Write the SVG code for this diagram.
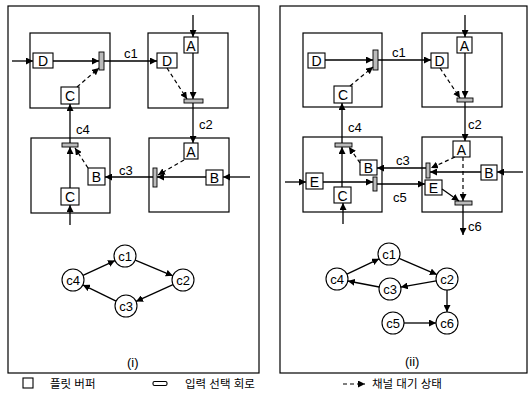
<svg xmlns="http://www.w3.org/2000/svg" width="529" height="397" viewBox="0 0 529 397">
<defs>
<marker id="ah" viewBox="0 0 10 10" refX="10" refY="5" markerWidth="7" markerHeight="7" markerUnits="userSpaceOnUse" orient="auto">
<path d="M0,0 L10,5 L0,10 z" fill="#000"/>
</marker>
</defs>
<style>
.frame{fill:none;stroke:#000;stroke-width:1.2}
.node{fill:#fff;stroke:#000;stroke-width:1.2}
.buf{fill:#fff;stroke:#000;stroke-width:1.1}
.sel{fill:#bbb;stroke:#000;stroke-width:0.9}
.ln{fill:none;stroke:#000;stroke-width:1.3;marker-end:url(#ah)}
.dl{fill:none;stroke:#000;stroke-width:1.2;stroke-dasharray:4,3;marker-end:url(#ah)}
.circ{fill:#fff;stroke:#000;stroke-width:1.1}
text{font-family:"Liberation Sans","Noto Sans CJK KR",sans-serif;fill:#000}
.bt{font-size:14px;text-anchor:middle}
.lb{font-size:13px}
.ct{font-size:13px;text-anchor:middle}
.kt{font-size:11.5px}
</style>
<rect class="frame" x="8" y="6" width="251" height="367"/>
<rect class="frame" x="280" y="6" width="247" height="367"/>

<!-- Panel i nodes -->
<g id="i-tl"><rect class="node" x="30" y="33" width="80" height="75"/>
<rect class="buf" x="33" y="53" width="20" height="15"/><text class="bt" x="43" y="66">D</text>
<rect class="buf" x="61" y="87" width="18" height="17"/><text class="bt" x="70" y="100.5">C</text>
<rect class="sel" x="99" y="52" width="5" height="18"/></g>
<g id="i-tr"><rect class="node" x="148" y="33" width="80" height="75"/>
<rect class="buf" x="157" y="53" width="20" height="15"/><text class="bt" x="167" y="66">D</text>
<rect class="buf" x="184" y="37" width="14" height="16"/><text class="bt" x="191" y="50.5">A</text>
<rect class="sel" x="184" y="99" width="19" height="4"/></g>
<g id="i-bl"><rect class="node" x="31" y="138" width="79" height="75"/>
<rect class="buf" x="88" y="168" width="17" height="17"/><text class="bt" x="96.5" y="181.5">B</text>
<rect class="buf" x="61" y="188" width="18" height="17"/><text class="bt" x="70" y="201.5">C</text>
<rect class="sel" x="62" y="143" width="16" height="4"/></g>
<g id="i-br"><rect class="node" x="149" y="138" width="80" height="74"/>
<rect class="buf" x="184" y="143" width="14" height="16"/><text class="bt" x="191" y="156.5">A</text>
<rect class="buf" x="206" y="170" width="17" height="15"/><text class="bt" x="214.5" y="182.5">B</text>
<rect class="sel" x="153" y="168" width="4" height="19"/></g>

<!-- Panel ii nodes -->
<g id="ii-tl"><rect class="node" x="303" y="33" width="79" height="74"/>
<rect class="buf" x="308" y="53" width="17" height="15"/><text class="bt" x="316.5" y="66">D</text>
<rect class="buf" x="334" y="86" width="18" height="17"/><text class="bt" x="343" y="99.5">C</text>
<rect class="sel" x="373" y="50" width="5" height="20"/></g>
<g id="ii-tr"><rect class="node" x="422" y="33" width="80" height="74"/>
<rect class="buf" x="431" y="53" width="17" height="15"/><text class="bt" x="439.5" y="66">D</text>
<rect class="buf" x="457" y="37" width="15" height="16"/><text class="bt" x="464.5" y="50.5">A</text>
<rect class="sel" x="457" y="98" width="16" height="4"/></g>
<g id="ii-bl"><rect class="node" x="303" y="137" width="79" height="75"/>
<rect class="buf" x="360" y="160" width="17" height="15"/><text class="bt" x="368.5" y="173">B</text>
<rect class="buf" x="306" y="173" width="17" height="16"/><text class="bt" x="314.5" y="186.5">E</text>
<rect class="buf" x="334" y="187" width="17" height="16"/><text class="bt" x="342.5" y="200.5">C</text>
<rect class="sel" x="335" y="143" width="17" height="4"/>
<rect class="sel" x="373" y="177" width="4" height="14"/></g>
<g id="ii-br"><rect class="node" x="422" y="137" width="80" height="75"/>
<rect class="buf" x="453" y="141" width="17" height="16"/><text class="bt" x="461.5" y="154.5">A</text>
<rect class="buf" x="481" y="165" width="16" height="15"/><text class="bt" x="489" y="178">B</text>
<rect class="buf" x="425" y="180" width="17" height="15"/><text class="bt" x="433.5" y="193">E</text>
<rect class="sel" x="426" y="163" width="4" height="15"/>
<rect class="sel" x="455" y="201" width="17" height="4"/></g>

<!-- graph nodes -->
<g id="g1-c1"><circle class="circ" cx="125" cy="256" r="11"/><text class="ct" x="125" y="260.5">c1</text></g>
<g id="g1-c2"><circle class="circ" cx="183" cy="280" r="11"/><text class="ct" x="183" y="284.5">c2</text></g>
<g id="g1-c3"><circle class="circ" cx="126" cy="306" r="11"/><text class="ct" x="126" y="310.5">c3</text></g>
<g id="g1-c4"><circle class="circ" cx="73" cy="280" r="11"/><text class="ct" x="73" y="284.5">c4</text></g>
<g id="g2-c1"><circle class="circ" cx="389" cy="254" r="11"/><text class="ct" x="389" y="258.5">c1</text></g>
<g id="g2-c2"><circle class="circ" cx="447" cy="279" r="11"/><text class="ct" x="447" y="283.5">c2</text></g>
<g id="g2-c3"><circle class="circ" cx="390" cy="289" r="11"/><text class="ct" x="390" y="293.5">c3</text></g>
<g id="g2-c4"><circle class="circ" cx="337" cy="279" r="11"/><text class="ct" x="337" y="283.5">c4</text></g>
<g id="g2-c5"><circle class="circ" cx="393" cy="323" r="11"/><text class="ct" x="393" y="327.5">c5</text></g>
<g id="g2-c6"><circle class="circ" cx="447" cy="323" r="11"/><text class="ct" x="447" y="327.5">c6</text></g>

<g id="connectors">
<!-- panel i -->
<path class="ln" d="M12,61 L33,61"/>
<path class="ln" d="M53,61 L99,61"/>
<path class="dl" d="M77,87 L99,68"/>
<path class="ln" d="M104,61 L157,61"/>
<path class="ln" d="M193,15 L193,37"/>
<path class="ln" d="M193,53 L193,99"/>
<path class="dl" d="M167,68 L187,99"/>
<path class="ln" d="M193,103 L193,143"/>
<path class="ln" d="M250,177 L223,177"/>
<path class="ln" d="M206,177 L157,177"/>
<path class="dl" d="M184,160 L158,175"/>
<path class="ln" d="M153,177 L105,177"/>
<path class="ln" d="M70,225 L70,205"/>
<path class="ln" d="M70,188 L70,147"/>
<path class="dl" d="M88,168 L75,148"/>
<path class="ln" d="M70,143 L70,104"/>
<!-- panel ii -->
<path class="ln" d="M325,60 L373,60"/>
<path class="dl" d="M350,86 L373,67"/>
<path class="ln" d="M378,60 L431,60"/>
<path class="ln" d="M465,15 L465,37"/>
<path class="ln" d="M465,53 L465,98"/>
<path class="dl" d="M440,68 L460,98"/>
<path class="ln" d="M465,102 L465,141"/>
<path class="ln" d="M523,172 L497,172"/>
<path class="ln" d="M481,172 L430,172"/>
<path class="dl" d="M455,157 L431,168"/>
<path class="ln" d="M426,168 L377,168"/>
<path class="dl" d="M463,157 L463,201"/>
<path class="ln" d="M442,189 L459,201"/>
<path class="ln" d="M463,205 L463,235"/>
<path class="ln" d="M285,182 L306,182"/>
<path class="ln" d="M323,182 L373,182"/>
<path class="ln" d="M377,184 L425,184"/>
<path class="ln" d="M343,224 L343,203"/>
<path class="ln" d="M342,187 L342,147"/>
<path class="dl" d="M360,163 L349,147"/>
<path class="ln" d="M342,143 L342,103"/>
<!-- graph i -->
<path class="ln" d="M83,275.4 L115,260.6"/>
<path class="ln" d="M135.2,260.2 L172.8,275.8"/>
<path class="ln" d="M173,284.6 L136,301.4"/>
<path class="ln" d="M116.1,301.2 L82.9,284.9"/>
<!-- graph ii -->
<path class="ln" d="M346.9,274.2 L379.1,258.8"/>
<path class="ln" d="M399.1,258.4 L436.9,274.6"/>
<path class="ln" d="M436.2,280.9 L400.8,287.1"/>
<path class="ln" d="M379.2,287 L347.8,281"/>
<path class="ln" d="M447,290 L447,312"/>
<path class="ln" d="M404,323 L436,323"/>
</g>

<!-- channel labels -->
<text class="lb" x="124" y="58">c1</text>
<text class="lb" x="199" y="129">c2</text>
<text class="lb" x="119" y="175">c3</text>
<text class="lb" x="76" y="134">c4</text>
<text class="lb" x="392" y="57">c1</text>
<text class="lb" x="468" y="129">c2</text>
<text class="lb" x="396" y="165">c3</text>
<text class="lb" x="348" y="132">c4</text>
<text class="lb" x="393" y="202">c5</text>
<text class="lb" x="468" y="231">c6</text>
<text class="lb" x="127" y="367">(i)</text>
<text class="lb" x="405" y="366">(ii)</text>

<!-- legend -->
<g id="legend">
<rect class="buf" x="23" y="378" width="10" height="10"/>
<text class="kt" x="50" y="388">플릿 버퍼</text>
<rect class="buf" x="153" y="381.5" width="14" height="4" rx="1.5"/>
<text class="kt" x="185" y="388">입력 선택 회로</text>
<path class="dl" d="M343,384 L365,384" stroke-dasharray="2.5,2.5"/>
<text class="kt" x="372" y="388">채널 대기 상태</text>
</g>
</svg>
